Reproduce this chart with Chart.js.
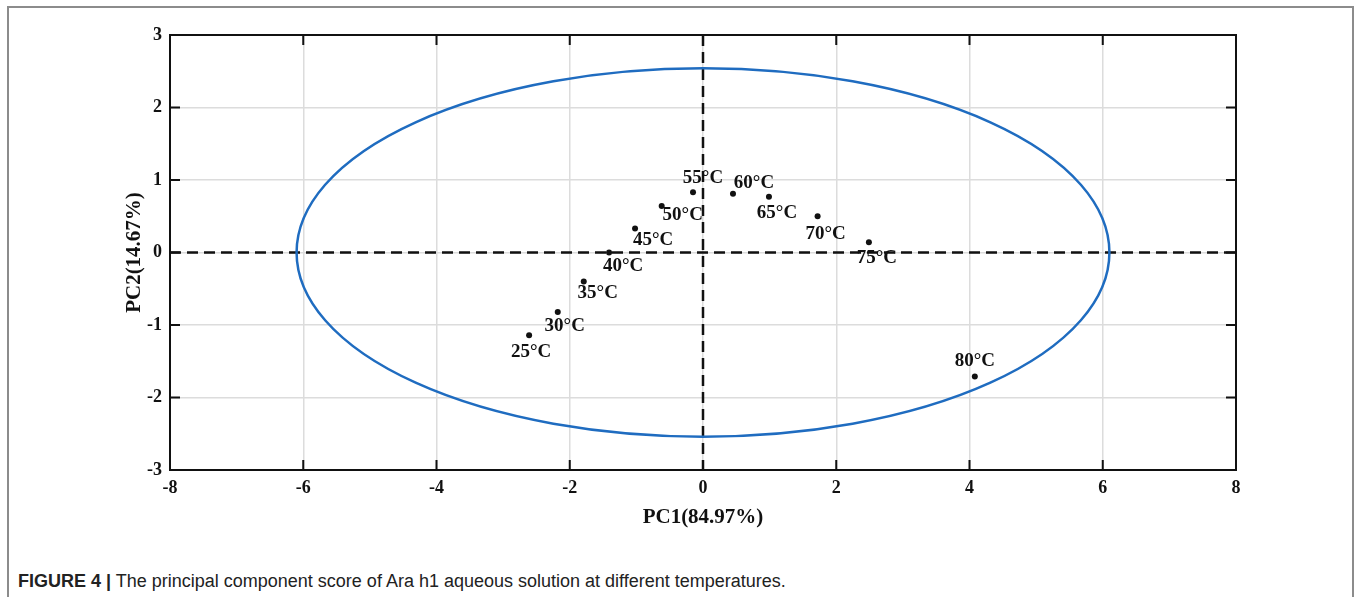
<!DOCTYPE html>
<html>
<head>
<meta charset="utf-8">
<script src="https://cdn.jsdelivr.net/npm/chart.js@4.4.1/dist/chart.umd.min.js"></script>
<style>
  html, body { margin: 0; padding: 0; background: #fff; }
  body { width: 1357px; height: 597px; position: relative; overflow: hidden; }
  .frame { position: absolute; left: 7px; top: 6px; width: 1347px; height: 640px; border: 2px solid #8c8c8c; box-sizing: border-box; }
  .chart-wrap { position: absolute; left: 0; top: 0; width: 1357px; height: 545px; }
  .caption { position: absolute; left: 18px; top: 570px; font-family: "Liberation Sans", Arial, sans-serif; font-size: 18px; line-height: 22px; color: #222; white-space: nowrap; }
  .caption b { font-weight: bold; }
</style>
</head>
<body>
<div class="frame"></div>
<div class="chart-wrap"><canvas id="pcaChart"></canvas></div>
<div class="caption"><b>FIGURE 4 |</b> The principal component score of Ara h1 aqueous solution at different temperatures.</div>
<script>
// sample temperatures and their PCA scores
var temps = ['25°C', '30°C', '35°C', '40°C', '45°C', '50°C', '55°C', '60°C', '65°C', '70°C', '75°C', '80°C'];
var pc1 = [-2.61, -2.18, -1.79, -1.41, -1.02, -0.62, -0.15, 0.45, 0.99, 1.72, 2.49, 4.08];
var pc2 = [-1.14, -0.82, -0.40, 0.00, 0.33, 0.64, 0.83, 0.81, 0.77, 0.50, 0.14, -1.71];

var xTicks = [-8, -6, -4, -2, 0, 2, 4, 6, 8];
var yTicks = [-3, -2, -1, 0, 1, 2, 3];

// confidence ellipse (centre and semi-axes in score units)
var ellipseCenter = [0, 0];
var ellipseRadii = [6.1, 2.54];

// label offsets from each dot, in px
var labelOffsets = [[2, 17], [7, 14], [14, 12], [14, 14], [18, 12], [21, 9],
                    [10, -14], [21, -11], [8, 16], [8, 18], [8, 16], [0, -15]];

var serif = '"Liberation Serif", "Times New Roman", serif';

var pcaDecor = {
    id: 'pcaDecor',
    beforeDatasetsDraw: function (chart) {
        var ctx = chart.ctx, a = chart.chartArea;
        var xs = chart.scales.x, ys = chart.scales.y;
        ctx.save();
        // dashed zero lines
        ctx.strokeStyle = '#111';
        ctx.lineWidth = 2.5;
        ctx.setLineDash([11, 6]);
        var x0 = xs.getPixelForValue(0), y0 = ys.getPixelForValue(0);
        ctx.beginPath();
        ctx.moveTo(a.left, y0); ctx.lineTo(a.right, y0);
        ctx.moveTo(x0, a.top); ctx.lineTo(x0, a.bottom);
        ctx.stroke();
        ctx.setLineDash([]);
        // ellipse
        var cx = xs.getPixelForValue(ellipseCenter[0]), cy = ys.getPixelForValue(ellipseCenter[1]);
        var rx = xs.getPixelForValue(ellipseCenter[0] + ellipseRadii[0]) - cx;
        var ry = cy - ys.getPixelForValue(ellipseCenter[1] + ellipseRadii[1]);
        ctx.strokeStyle = '#1f6cc0';
        ctx.lineWidth = 2.5;
        ctx.beginPath();
        ctx.ellipse(cx, cy, rx, ry, 0, 0, Math.PI * 2);
        ctx.stroke();
        ctx.restore();
    },
    afterDatasetsDraw: function (chart) {
        var ctx = chart.ctx, a = chart.chartArea;
        var xs = chart.scales.x, ys = chart.scales.y;
        ctx.save();
        // point labels
        ctx.font = 'bold 19px ' + serif;
        ctx.fillStyle = '#111';
        ctx.textAlign = 'center';
        ctx.textBaseline = 'middle';
        chart.getDatasetMeta(0).data.forEach(function (pt, i) {
            ctx.fillText(temps[i], pt.x + labelOffsets[i][0], pt.y + labelOffsets[i][1]);
        });
        // box and inward tick marks
        ctx.strokeStyle = '#111';
        ctx.lineWidth = 2;
        ctx.strokeRect(a.left, a.top, a.right - a.left, a.bottom - a.top);
        ctx.beginPath();
        xTicks.forEach(function (v) {
            var px = xs.getPixelForValue(v);
            ctx.moveTo(px, a.bottom); ctx.lineTo(px, a.bottom - 10);
            ctx.moveTo(px, a.top); ctx.lineTo(px, a.top + 10);
        });
        yTicks.forEach(function (v) {
            var py = ys.getPixelForValue(v);
            ctx.moveTo(a.left, py); ctx.lineTo(a.left + 10, py);
            ctx.moveTo(a.right, py); ctx.lineTo(a.right - 10, py);
        });
        ctx.stroke();
        ctx.restore();
    }
};

new Chart(document.getElementById('pcaChart').getContext('2d'), {
    type: 'scatter',
    data: {
        datasets: [{
            data: pc1.map(function (v, i) { return { x: v, y: pc2[i] }; }),
            backgroundColor: '#111',
            borderWidth: 0,
            pointRadius: 3
        }]
    },
    options: {
        responsive: true,
        maintainAspectRatio: false,
        animation: false,
        layout: { padding: { left: 110, right: 121, top: 35, bottom: 15 } },
        plugins: { legend: { display: false }, tooltip: { enabled: false } },
        scales: {
            x: {
                min: -8, max: 8,
                afterBuildTicks: function (s) { s.ticks = xTicks.map(function (v) { return { value: v }; }); },
                afterFit: function (s) { s.height = 60; },
                grid: { color: '#dcdcdc', lineWidth: 1.5, drawTicks: false },
                border: { display: false },
                ticks: { padding: 8, color: '#111', font: { family: serif, size: 18, weight: 'bold' } },
                title: { display: true, text: 'PC1(84.97%)', color: '#111', padding: { top: 0, bottom: 0 },
                         font: { family: serif, size: 21, weight: 'bold' } }
            },
            y: {
                min: -3, max: 3,
                afterBuildTicks: function (s) { s.ticks = yTicks.map(function (v) { return { value: v }; }); },
                afterFit: function (s) { s.width = 60; },
                grid: { color: '#dcdcdc', lineWidth: 1.5, drawTicks: false },
                border: { display: false },
                ticks: { padding: 8, color: '#111', font: { family: serif, size: 18, weight: 'bold' } },
                title: { display: true, text: 'PC2(14.67%)', color: '#111', padding: { top: 12, bottom: 0 },
                         font: { family: serif, size: 21, weight: 'bold' } }
            }
        }
    },
    plugins: [pcaDecor]
});
</script>
</body>
</html>
